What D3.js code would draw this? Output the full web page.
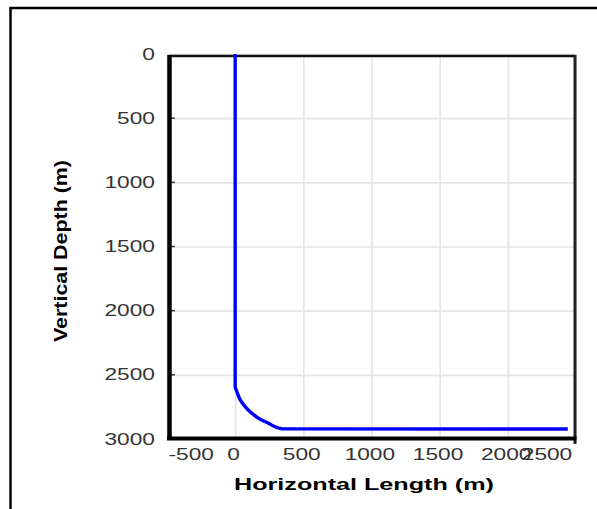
<!DOCTYPE html>
<html>
<head>
<meta charset="utf-8">
<script src="https://cdn.jsdelivr.net/npm/d3@7"></script>
<style>
  body { margin: 0; background: #fff; }
  text { font-family: "Liberation Sans", Arial, sans-serif; }
  .tick text { fill: #333; font-size: 16px; }
  .axis-label { font-weight: bold; font-size: 17px; fill: #000; }
</style>
</head>
<body>
<svg></svg>
<script>
const w = 597
const h = 509

// well path
const horizontalLength = [0, 0, 0, 12, 37, 73, 122, 183, 244, 305, 342, 2440]
const verticalDepth = [0, 1500, 2590, 2630, 2695, 2747, 2799, 2846, 2877, 2909, 2920, 2922]

const xTicks = [-500, 0, 500, 1000, 1500, 2000, 2500]
const yTicks = [0, 500, 1000, 1500, 2000, 2500, 3000]

const data = horizontalLength.map((x, i) => ({ x, y: verticalDepth[i] }))

const svg = d3.select('svg')
  .attr('width', w)
  .attr('height', h);

const margin = {top: 54, right: 21, bottom: 70, left: 167};
const innerWidth = w - margin.left - margin.right;   // 409
const innerHeight = h - margin.top - margin.bottom;  // 385

const xScale = d3.scaleLinear()
  .domain([-500, 2500])
  .range([0, innerWidth])

const yScale = d3.scaleLinear()
  .domain([0, 3000])
  .range([0, innerHeight]) // depth grows downwards

const plainFormat = d => String(d) // no thousands comma, ascii hyphen

// outer frame of the figure (cut by the window on right/bottom)
svg.append('rect')
  .attr('x', 10.5).attr('y', 8)
  .attr('width', 800).attr('height', 800)
  .attr('fill', 'none')
  .attr('stroke', '#000')
  .attr('stroke-width', 2.5);

const g = svg.append('g')
  .attr('transform', `translate(${margin.left}, ${margin.top})`);

const stretch = 1.42 // the labels in the picture are drawn wide

const yAxisG = g.append('g')
  .call(d3.axisLeft(yScale).tickValues(yTicks).tickFormat(plainFormat)
    .tickSize(-innerWidth).tickPadding(0));
yAxisG.select('.domain').remove();
yAxisG.selectAll('.tick line')
  .attr('stroke', '#e4e4e4').attr('stroke-width', 1.6);
yAxisG.selectAll('.tick text')
  .attr('x', -8.5)
  .attr('transform', `scale(${stretch},1)`);

const xAxisG = g.append('g')
  .attr('transform', `translate(0, ${innerHeight})`)
  .call(d3.axisBottom(xScale).tickValues(xTicks).tickFormat(plainFormat)
    .tickSize(-innerHeight).tickPadding(0));
xAxisG.select('.domain').remove();
xAxisG.selectAll('.tick line')
  .attr('stroke', '#e4e4e4').attr('stroke-width', 1.6);
xAxisG.selectAll('.tick text')
  .attr('y', 10)
  .attr('transform', `scale(${stretch},1)`)
  .attr('text-anchor', d => d === -500 ? 'start' : d === 2500 ? 'end' : 'middle')
  .attr('x', d => d === -500 ? 0.7 : d === 2500 ? -3 : -1.5);

// small inward ticks on the left axis
g.append('g').selectAll('line').data(yTicks.slice(1, -1))
  .enter().append('line')
  .attr('x1', 2).attr('x2', 8)
  .attr('y1', d => yScale(d)).attr('y2', d => yScale(d))
  .attr('stroke', '#444').attr('stroke-width', 1.5);

// plot frame
g.append('line') // top
  .attr('x1', 2).attr('x2', innerWidth - 1)
  .attr('y1', 2).attr('y2', 2)
  .attr('stroke', '#111').attr('stroke-width', 2.5);
g.append('line') // right
  .attr('x1', innerWidth - 1).attr('x2', innerWidth - 1)
  .attr('y1', 1).attr('y2', innerHeight + 5)
  .attr('stroke', '#222').attr('stroke-width', 3);
g.append('line') // left
  .attr('x1', 2.5).attr('x2', 2.5)
  .attr('y1', 1).attr('y2', innerHeight + 1)
  .attr('stroke', '#000').attr('stroke-width', 4.5);
g.append('line') // bottom
  .attr('x1', 0).attr('x2', innerWidth + 0.5)
  .attr('y1', innerHeight - 0.5).attr('y2', innerHeight - 0.5)
  .attr('stroke', '#000').attr('stroke-width', 4);

const lineGenerator = d3.line()
  .x(d => xScale(d.x))
  .y(d => yScale(d.y))
  .curve(d3.curveMonotoneY);

g.append('path')
  .attr('d', lineGenerator(data))
  .attr('fill', 'none')
  .attr('stroke', '#0000ff')
  .attr('stroke-width', 3.4)
  .attr('stroke-linejoin', 'round');

// axis titles
svg.append('text')
  .attr('class', 'axis-label')
  .attr('x', 234).attr('y', 490)
  .attr('textLength', 260)
  .attr('lengthAdjust', 'spacingAndGlyphs')
  .text('Horizontal Length (m)');

svg.append('text')
  .attr('class', 'axis-label')
  .attr('transform', 'translate(67, 342) rotate(-90) scale(1, 1.1)')
  .attr('textLength', 182)
  .attr('lengthAdjust', 'spacingAndGlyphs')
  .text('Vertical Depth (m)');
</script>
</body>
</html>
